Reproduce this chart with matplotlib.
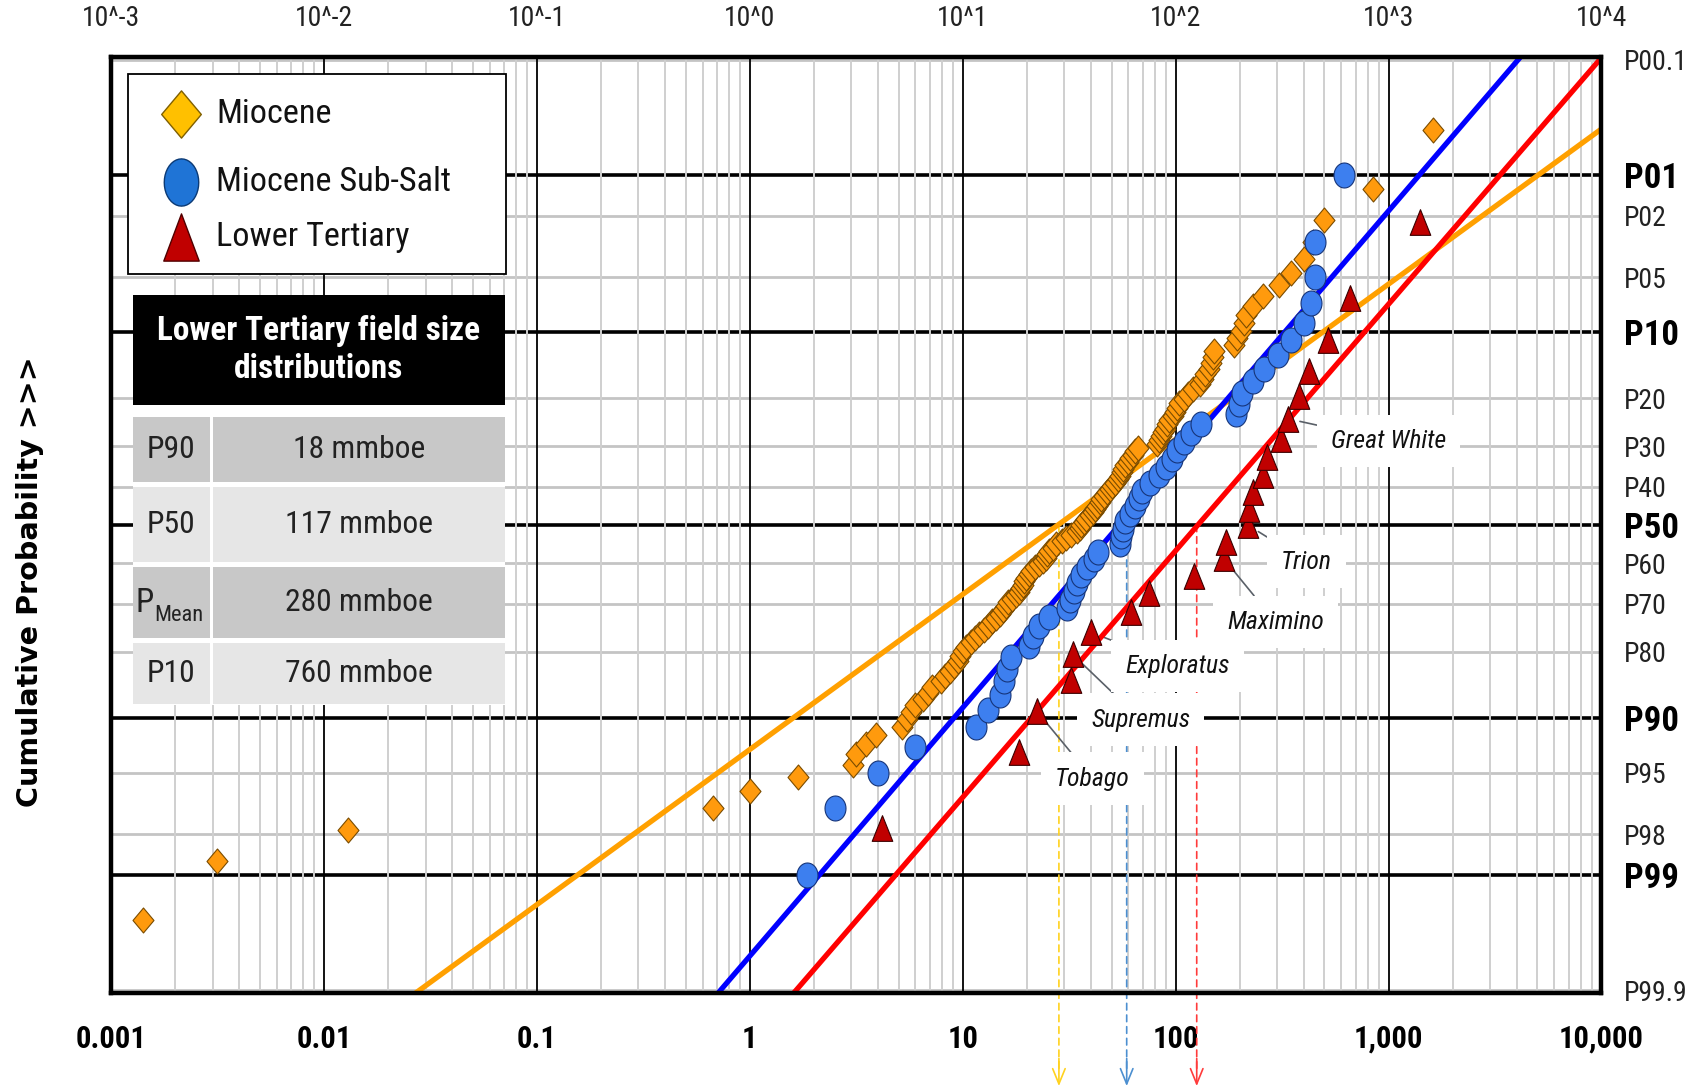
import numpy as np
import matplotlib
matplotlib.use("Agg")
import matplotlib.pyplot as plt
from matplotlib.path import Path
from matplotlib.patches import Rectangle
from matplotlib.ticker import NullLocator
from matplotlib import font_manager as fm
from statistics import NormalDist

# ---- data (field size in mmboe, cumulative probability in %) ----
miocene_size = [0.00141, 0.00315, 0.013, 0.67, 1.0, 1.68, 3.05, 3.15, 3.5, 3.9,
                5.2, 5.5, 5.7, 5.95, 6.5, 6.9, 7.2, 7.9, 8.3, 8.7,
                9.1, 9.5, 9.7, 10.0, 10.4, 10.9, 11.4, 11.9, 12.6, 13.2,
                13.7, 14.3, 14.9, 15.4, 15.9, 16.4, 17.0, 17.7, 18.3, 18.7,
                19.1, 19.5, 19.8, 20.4, 20.9, 21.8, 22.7, 23.7, 24.5, 24.8,
                25.3, 26.5, 27.3, 29.2, 30.5, 32.1, 34.3, 35.4, 35.8, 37.0,
                37.8, 39.5, 40.8, 41.7, 42.6, 44.0, 44.5, 45.9, 47.4, 49.0,
                50.1, 51.7, 53.4, 54.6, 55.8, 56.4, 57.6, 59.5, 60.8, 62.8,
                64.2, 66.3, 81.4, 83.2, 85.1, 86.9, 88.8, 90.7, 92.7, 96.8,
                99.5, 101, 104, 109, 114, 120, 130, 135, 138, 143,
                146, 149, 151, 187, 195, 202, 209, 215, 230, 256,
                305, 347, 399, 440, 495, 841, 1610]
miocene_prob = [99.57, 98.72, 97.86, 97.01, 96.15, 95.30, 94.44, 93.59, 92.74, 91.88,
                91.03, 90.17, 89.32, 88.46, 87.61, 86.75, 85.90, 85.04, 84.19, 83.33,
                82.48, 81.62, 80.77, 79.91, 79.06, 78.21, 77.35, 76.50, 75.64, 74.79,
                73.93, 73.08, 72.22, 71.37, 70.51, 69.66, 68.80, 67.95, 67.09, 66.24,
                65.38, 64.53, 63.68, 62.82, 61.97, 61.11, 60.26, 59.40, 58.55, 57.69,
                56.84, 55.98, 55.13, 54.27, 53.42, 52.56, 51.71, 50.85, 50.00, 49.15,
                48.29, 47.44, 46.58, 45.73, 44.87, 44.02, 43.16, 42.31, 41.45, 40.60,
                39.74, 38.89, 38.03, 37.18, 36.32, 35.47, 34.62, 33.76, 32.91, 32.05,
                31.20, 30.34, 29.49, 28.63, 27.78, 26.92, 26.07, 25.21, 24.36, 23.50,
                22.65, 21.79, 20.94, 20.09, 19.23, 18.38, 17.52, 16.67, 15.81, 14.96,
                14.10, 13.25, 12.39, 11.54, 10.68, 9.83, 8.97, 8.12, 7.26, 6.41,
                5.56, 4.70, 3.85, 2.99, 2.14, 1.28, 0.43]

subsalt_size = [1.85, 2.5, 4.0, 6.0, 11.5, 13.1, 14.9, 15.6, 16.1, 16.8,
                20.4, 21.3, 22.7, 25.3, 30.8, 31.8, 33.2, 34.3, 35.8, 38.2,
                41.2, 43.0, 54.6, 55.2, 56.4, 57.6, 60.8, 64.2, 67.0, 69.2,
                75.5, 83.2, 89.8, 96, 102, 109, 118, 131, 193, 198,
                206, 230, 259, 301, 347, 399, 430, 449, 449, 615]
subsalt_prob = [99, 97, 95, 93, 91, 89, 87, 85, 83, 81,
                79, 77, 75, 73, 71, 69, 67, 65, 63, 61,
                59, 57, 55, 53, 51, 49, 47, 45, 43, 41,
                39, 37, 35, 33, 31, 29, 27, 25, 23, 21,
                19, 17, 15, 13, 11, 9, 7, 5, 3, 1]

lowtert_size = [4.17, 18.3, 22.3, 32.1, 32.8, 39.9, 61.5, 74.7, 121.5, 168,
                172, 218, 220, 232, 256, 270, 311, 336, 378, 421,
                517, 656, 1400]
lowtert_prob = [97.8, 93.4, 89.2, 84.9, 80.5, 76.2, 71.8, 67.5, 63.2, 58.8,
                54.4, 50.0, 45.7, 41.3, 37.0, 32.6, 28.3, 24.0, 19.6, 15.3,
                10.9, 6.6, 2.2]

# fitted lognormal lines: (P90, P10) in mmboe
fit_miocene = (1.6, 490)
fit_subsalt = (9.1, 325)
fit_lowtert = (21, 770)
# P50 markers (dashed arrows)
p50_marks = [28.3, 58.9, 125.6]

# field names: (label, index into lower tertiary arrays, text size, text prob)
field_labels = [("Tobago", 2, 40.7, 95.4), ("Supremus", 4, 68.5, 90.2),
                ("Exploratus", 5, 102, 82.5), ("Maximino", 9, 294, 74.0),
                ("Trion", 11, 412, 59.6), ("Great White", 17, 1000, 28.8)]

table_rows = [("P90", "18 mmboe"), ("P50", "117 mmboe"),
              ("PMean", "280 mmboe"), ("P10", "760 mmboe")]

major_levels = [1, 10, 50, 90, 99]
minor_levels = [0.1, 2, 5, 20, 30, 40, 60, 70, 80, 95, 98, 99.9]
major_labels = ["P01", "P10", "P50", "P90", "P99"]
minor_labels = ["P00.1", "P02", "P05", "P20", "P30", "P40", "P60", "P70",
                "P80", "P95", "P98", "P99.9"]
decades = [1e-3, 1e-2, 1e-1, 1e0, 1e1, 1e2, 1e3, 1e4]
bottom_labels = ["0.001", "0.01", "0.1", "1", "10", "100", "1,000", "10,000"]
top_labels = ["10^-3", "10^-2", "10^-1", "10^0", "10^1", "10^2", "10^3", "10^4"]


def pick_narrow():
    # prefer a narrow / condensed sans if one is installed
    names = {f.name for f in fm.fontManager.ttflist}
    prefs = [("Liberation Sans Narrow", 1.0), ("Arial Narrow", 1.0),
             ("Roboto Condensed", 0.95), ("Noto Sans Condensed", 0.93),
             ("Open Sans Condensed", 0.93), ("DejaVu Sans Condensed", 0.86),
             ("Noto Sans SemiCondensed", 0.86)]
    for name, scale in prefs:
        if name in names:
            return name, scale
    return "Liberation Sans", 0.84


NARROW, FSCALE = pick_narrow()

# probability scale
_nd = NormalDist()
_ppf = np.vectorize(lambda p: _nd.inv_cdf(min(max(p, 1e-9), 1 - 1e-9)), otypes=[float])
_cdf = np.vectorize(_nd.cdf, otypes=[float])


def prob_fwd(p):
    return _ppf(np.asarray(p, dtype=float))


def prob_inv(z):
    return _cdf(np.asarray(z, dtype=float))


def marker_from(verts):
    verts = list(verts) + [verts[0]]
    codes = [Path.MOVETO] + [Path.LINETO] * (len(verts) - 2) + [Path.CLOSEPOLY]
    return Path(verts, codes)


diamond = marker_from([(0, 1), (0.84, 0), (0, -1), (-0.84, 0)])
t = np.linspace(0, 2 * np.pi, 40, endpoint=False)
ellipse = marker_from(list(zip(0.84 * np.cos(t), np.sin(t))))
triangle = marker_from([(0, 1), (0.8, -1), (-0.8, -1)])
ellipse_leg = marker_from(list(zip(0.73 * np.cos(t), np.sin(t))))
triangle_leg = marker_from([(0, 1), (0.75, -1), (-0.75, -1)])

fig = plt.figure(figsize=(17.06, 10.88), dpi=100)
ax = fig.add_axes([111 / 1706, 1 - 993 / 1088, 1490.5 / 1706, 936 / 1088])
ax.set_xscale("log")
ax.set_yscale("function", functions=(prob_fwd, prob_inv))
ax.set_xlim(1e-3, 1e4)
ax.set_ylim(float(prob_inv(3.11)), float(prob_inv(-3.11)))

# grid
for p in minor_levels:
    ax.axhline(p / 100, color="#c4c4c4", lw=2.0, zorder=1.0)
for p in major_levels:
    ax.axhline(p / 100, color="black", lw=2.6, zorder=1.1)
for d in range(-3, 4):
    for s in range(2, 10):
        ax.axvline(s * 10.0 ** d, color="#cfcfcf", lw=1.4, zorder=1.2)
for d in decades:
    ax.axvline(d, color="black", lw=1.3, zorder=1.3)

# fitted lines
zz = np.array([-3.4, 0.0, 3.4])
for (p90, p10), col in zip([fit_miocene, fit_subsalt, fit_lowtert],
                           ["#FFA000", "#0000FF", "#FF0000"]):
    lo, hi = np.log10(p90), np.log10(p10)
    mid, slope = (lo + hi) / 2, (hi - lo) / (2 * 1.2816)
    ax.plot(10 ** (mid - zz * slope), prob_inv(zz), color=col, lw=3.8,
            solid_capstyle="butt", zorder=4)

# data points
ax.plot(miocene_size, np.array(miocene_prob) / 100, ls="none", marker=diamond, ms=18,
        mfc="#FF9A0D", mec="#7a4c00", mew=0.8, zorder=5)
ax.plot(subsalt_size, np.array(subsalt_prob) / 100, ls="none", marker=ellipse, ms=18,
        mfc="#3D7FEF", mec="#16357a", mew=0.8, zorder=6)
ax.plot(lowtert_size, np.array(lowtert_prob) / 100, ls="none", marker=triangle, ms=18.5,
        mfc="#C00000", mec="#3a0000", mew=0.8, zorder=7)

# P50 dashed arrows
for x, col in zip(p50_marks, ["#FFD21F", "#4C8FD0", "#FF3B3B"]):
    ax.annotate("", xy=(x, -0.085), xycoords=("data", "axes fraction"),
                xytext=(x, 0.5), textcoords="data",
                arrowprops=dict(arrowstyle="-", color=col, lw=1.2, linestyle=(0, (4, 3)),
                                shrinkA=0, shrinkB=0),
                annotation_clip=False, zorder=2)
    ax.annotate("", xy=(x, -0.0995), xycoords=("data", "axes fraction"),
                xytext=(x, -0.07), textcoords=("data", "axes fraction"),
                arrowprops=dict(arrowstyle="->,head_length=1.1,head_width=0.45", color=col,
                                lw=1.2, shrinkA=0, shrinkB=0),
                annotation_clip=False, zorder=2)

# field labels
for name, idx, tx, ty in field_labels:
    ax.annotate(name, xy=(lowtert_size[idx], lowtert_prob[idx] / 100),
                xytext=(tx, ty / 100), textcoords="data", ha="center", va="center",
                fontsize=18.5, style="italic", family=NARROW, color="#111111",
                bbox=dict(boxstyle="square,pad=0.55", fc="white", ec="none"),
                arrowprops=dict(arrowstyle="-", color="#5a6068", lw=1.2,
                                shrinkA=0, shrinkB=9),
                zorder=3)

# axes, ticks, labels
for sp in ax.spines.values():
    sp.set_linewidth(3.2)
    sp.set_zorder(8)
ax.set_xticks(decades, labels=bottom_labels)
ax.xaxis.set_minor_locator(NullLocator())
ax.tick_params(axis="x", which="both", length=0, pad=22)
for lab in ax.get_xticklabels():
    lab.set_fontfamily(NARROW)
    lab.set_fontweight("bold")
    lab.set_fontsize(22)

ax.yaxis.tick_right()
ax.set_yticks([p / 100 for p in major_levels], labels=major_labels)
ax.set_yticks([p / 100 for p in minor_levels], labels=minor_labels, minor=True)
ax.tick_params(axis="y", which="both", length=0, pad=16)
for lab in ax.get_yticklabels():
    lab.set_fontfamily(NARROW)
    lab.set_fontweight("bold")
    lab.set_fontsize(25)
for lab in ax.get_yticklabels(minor=True):
    lab.set_fontfamily(NARROW)
    lab.set_fontsize(20)
    lab.set_color("#222222")

secax = ax.secondary_xaxis("top")
secax.set_xticks(decades, labels=top_labels)
secax.xaxis.set_minor_locator(NullLocator())
secax.tick_params(length=0, pad=18)
secax.spines["top"].set_visible(False)
for lab in secax.get_xticklabels():
    lab.set_fontfamily(NARROW)
    lab.set_fontsize(20)
    lab.set_color("#222222")

fig.text(30 / 1706, 1 - 582 / 1088, "Cumulative Probability >>>", rotation=90,
         ha="center", va="center", fontsize=20.6, fontweight="bold", family="DejaVu Sans")

# ---- overlay: legend box and summary table (pixel coordinates) ----
ov = fig.add_axes([0, 0, 1, 1], zorder=5)
ov.set_xlim(0, 1706)
ov.set_ylim(1088, 0)
ov.axis("off")

ov.add_patch(Rectangle((128, 74), 378, 200, fc="white", ec="black", lw=1.3))
legend_items = [("Miocene", diamond, "#FFC000", "#7f5f00", 114),
                ("Miocene Sub-Salt", ellipse_leg, "#1F74D6", "#0b3a75", 182),
                ("Lower Tertiary", triangle_leg, "#C00000", "#500000", 237)]
for name, mk, fc, ec, y in legend_items:
    ov.plot([181], [y], marker=mk, ms=34, mfc=fc, mec=ec, mew=1.0, ls="none")
    ov.text(216, y, name, ha="left", va="center", fontsize=26 * FSCALE, family=NARROW,
            color="#111111")

ov.add_patch(Rectangle((133, 405), 372, 300, fc="white", ec="none"))
ov.add_patch(Rectangle((133, 295), 372, 110, fc="black", ec="none"))
ov.text(319, 350, "Lower Tertiary field size\ndistributions", color="white", ha="center",
        va="center", fontsize=25.2 * FSCALE, fontweight="bold", family=NARROW,
        linespacing=1.25)
row_y = [(417, 482), (487, 562), (567, 638), (643, 704)]
for k, ((y0, y1), (lab, val)) in enumerate(zip(row_y, table_rows)):
    fc = "#c8c8c8" if k % 2 == 0 else "#e6e6e6"
    ov.add_patch(Rectangle((133, y0), 77, y1 - y0, fc=fc, ec="none"))
    ov.add_patch(Rectangle((213, y0), 292, y1 - y0, fc=fc, ec="none"))
    yc = (y0 + y1) / 2
    if lab == "PMean":
        ptxt = ov.text(136, yc, "P", ha="left", va="center", fontsize=25 * FSCALE,
                       family=NARROW, color="#222222")
        ov.annotate("Mean", xy=(1.0, 0.1), xycoords=ptxt, ha="left", va="center",
                    fontsize=17 * FSCALE, family=NARROW, color="#222222")
    else:
        ov.text(171, yc, lab, ha="center", va="center", fontsize=24 * FSCALE, family=NARROW,
                color="#222222")
    ov.text(359, yc, val, ha="center", va="center", fontsize=24 * FSCALE, family=NARROW,
            color="#222222")

fig.savefig("out.png", dpi=100)
